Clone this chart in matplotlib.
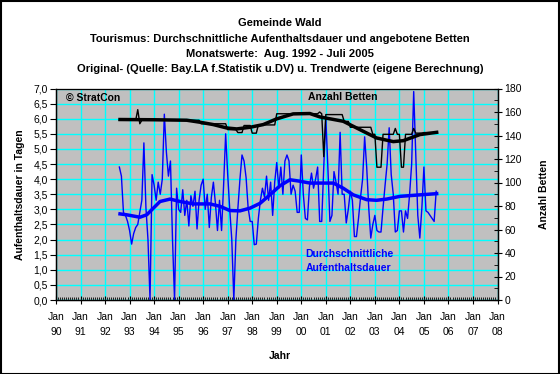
import numpy as np
import matplotlib
matplotlib.use("Agg")
import matplotlib.pyplot as plt
from matplotlib.ticker import MultipleLocator, FuncFormatter
from matplotlib.patches import Rectangle

plt.rcParams['font.family'] = ['Liberation Sans', 'DejaVu Sans']

# monthly values, Aug 1992 - Jul 2005
# Aufenthaltsdauer in Tagen
dauer_1992 = [4.4, 4.1, 2.9, 2.8, 2.6]
dauer_1993 = [2.3, 1.85, 2.2, 2.4, 2.5, 2.9, 3.3, 5.2, 3.05, 2.0, 0.0, 4.15]
dauer_1994 = [3.8, 3.3, 3.9, 3.5, 4.0, 6.15, 4.9, 4.1, 4.6, 2.0, 0.0, 3.7]
dauer_1995 = [3.0, 2.9, 3.65, 2.8, 3.3, 2.45, 3.45, 3.1, 3.6, 2.35, 3.3, 3.8]
dauer_1996 = [4.0, 3.0, 3.5, 2.4, 3.4, 3.9, 3.2, 2.3, 3.3, 2.3, 3.8, 5.5]
dauer_1997 = [4.15, 3.0, 2.0, 0.0, 2.0, 3.05, 4.0, 4.8, 4.6, 4.05, 3.05, 2.6]
dauer_1998 = [2.6, 1.83, 1.85, 2.7, 3.3, 3.7, 3.4, 4.1, 3.3, 3.9, 2.8, 3.9]
dauer_1999 = [4.55, 3.7, 4.4, 3.5, 4.6, 4.8, 4.6, 3.5, 3.8, 3.6, 2.9, 2.9]
dauer_2000 = [4.8, 3.5, 2.7, 2.65, 3.75, 4.2, 3.7, 4.0, 4.4, 2.6, 2.6, 4.4]
dauer_2001 = [6.05, 4.4, 2.6, 2.8, 4.25, 3.9, 3.5, 5.55, 3.5, 3.5, 2.55, 3.0]
dauer_2002 = [3.6, 3.3, 2.1, 2.1, 2.7, 3.4, 4.0, 5.4, 4.4, 3.05, 2.05, 2.5]
dauer_2003 = [2.8, 2.3, 2.25, 2.25, 3.05, 3.8, 4.5, 5.7, 4.15, 3.5, 2.25, 2.3]
dauer_2004 = [2.95, 2.95, 2.25, 2.95, 2.7, 3.5, 4.5, 6.9, 4.8, 2.8, 2.05, 3.05]
dauer_2005 = [4.4, 2.95, 2.9, 2.8, 2.7, 2.6, 3.6]

# Anzahl Betten
betten_1992 = [153, 153, 153, 153, 153]
betten_1993 = [153, 153, 153, 153, 162, 150, 153, 153, 153, 153, 153, 153]
betten_1994 = [153] * 12
betten_1995 = [153] * 11 + [150]
betten_1996 = [150] * 12
betten_1997 = [145, 145, 145, 145, 145, 142.5, 142.5, 142.5, 148.5, 148.5, 148.5, 148.5]
betten_1998 = [142, 142, 142, 149, 149, 149, 149, 149, 149, 149, 149, 149]
betten_1999 = [158.5] * 12
betten_2000 = [158.5] * 9 + [160, 158.5, 122]
betten_2001 = [157.8] * 9 + [152, 152, 152]
betten_2002 = [147] * 11 + [141]
betten_2003 = [141, 113, 113, 113, 141, 141, 141, 141, 141, 141, 146, 141]
betten_2004 = [141, 113, 113, 141, 141, 141, 141, 146, 142, 142, 142, 142]
betten_2005 = [142.5] * 7

# trend values (time in years, value)
trend_dauer_t = [1992.61, 1992.88, 1993.42, 1993.70, 1993.97, 1994.24, 1994.65, 1995.06,
                 1995.60, 1996.28, 1996.69, 1997.09, 1997.50, 1997.91, 1998.32, 1998.72,
                 1999.13, 1999.54, 1999.95, 2000.35, 2000.76, 2001.31, 2001.71, 2002.12,
                 2002.67, 2003.07, 2003.48, 2004.02, 2004.84, 2005.52]
trend_dauer_v = [2.85, 2.82, 2.74, 2.82, 3.04, 3.26, 3.34, 3.26,
                 3.18, 3.18, 3.10, 2.96, 2.95, 3.04, 3.20, 3.48,
                 3.78, 3.98, 3.93, 3.87, 3.87, 3.87, 3.70, 3.48,
                 3.32, 3.30, 3.34, 3.43, 3.48, 3.52]
trend_betten_t = [1992.61, 1994.0, 1995.33, 1995.87, 1996.41, 1996.96, 1997.37, 1997.91,
                  1998.45, 1998.99, 1999.67, 2000.35, 2000.76, 2001.71, 2002.39, 2003.07,
                  2003.75, 2004.16, 2004.84, 2005.52]
trend_betten_v = [153.6, 153.4, 153.0, 151.3, 149.3, 146.4, 145.6, 147.0,
                  149.3, 154.1, 158.4, 158.7, 155.8, 152.1, 145.0, 137.9,
                  134.8, 135.6, 140.8, 142.7]

years = list(range(1990, 2009))
year_labels = ["Jan\n%02d" % (y % 100) for y in years]

dauer = np.concatenate([dauer_1992, dauer_1993, dauer_1994, dauer_1995, dauer_1996,
                        dauer_1997, dauer_1998, dauer_1999, dauer_2000, dauer_2001,
                        dauer_2002, dauer_2003, dauer_2004, dauer_2005])
betten = np.concatenate([betten_1992, betten_1993, betten_1994, betten_1995, betten_1996,
                         betten_1997, betten_1998, betten_1999, betten_2000, betten_2001,
                         betten_2002, betten_2003, betten_2004, betten_2005])
t = 1992 + (7 + np.arange(len(dauer))) / 12.0

W, H = 560, 374
fig = plt.figure(figsize=(W / 100, H / 100), dpi=100)
fig.patch.set_facecolor('white')
ax = fig.add_axes([56 / W, 1 - 300 / H, (497.5 - 56) / W, (300 - 88.5) / H])
ax.set_facecolor('#c0c0c0')

ax.set_xlim(1990, 2008)
ax.set_ylim(0, 7)
ax.set_xticks(years)
ax.set_xticklabels(year_labels, linespacing=1.6)
ax.xaxis.set_minor_locator(MultipleLocator(1 / 12.0))
ax.yaxis.set_major_locator(MultipleLocator(0.5))
ax.yaxis.set_major_formatter(FuncFormatter(lambda v, p: ("%.1f" % v).replace('.', ',')))
ax.grid(True, which='major', color='#00ffff', linewidth=1)
ax.set_axisbelow(True)

ax.plot(t, dauer, color='#0000ff', linewidth=1)
ax.plot(trend_dauer_t, trend_dauer_v, color='#0000ff', linewidth=2.5)

ax.tick_params(axis='x', which='major', direction='inout', length=6, labelsize=7.5, pad=6)
ax.tick_params(axis='x', which='minor', direction='in', length=2)
ax.tick_params(axis='y', which='major', direction='out', length=4, labelsize=7.5, pad=2)
for s in ax.spines.values():
    s.set_color('black')
    s.set_linewidth(1)
ax.spines['top'].set_color('#808080')

ax2 = ax.twinx()
ax2.set_ylim(0, 180)
ax2.yaxis.set_major_locator(MultipleLocator(20))
ax2.yaxis.set_minor_locator(MultipleLocator(10))
ax2.tick_params(axis='y', which='major', direction='inout', length=6, labelsize=7.5, pad=2)
ax2.tick_params(axis='y', which='minor', direction='in', length=3)
ax2.plot(t, betten, color='black', linewidth=1)
ax2.plot(trend_betten_t, trend_betten_v, color='black', linewidth=2.5)

ax.set_ylabel("Aufenthaltsdauer in Tagen", fontsize=7.5, fontweight='bold', labelpad=6)
ax2.set_ylabel("Anzahl Betten", fontsize=7.5, fontweight='bold', rotation=90, labelpad=12)
fig.text(280 / W, 1 - 356 / H, "Jahr", ha='center', va='center', fontsize=7.5, fontweight='bold')

titles = ["Gemeinde Wald",
          "Tourismus: Durchschnittliche Aufenthaltsdauer und angebotene Betten",
          "Monatswerte:  Aug. 1992 - Juli 2005",
          "Original- (Quelle: Bay.LA f.Statistik u.DV) u. Trendwerte (eigene Berechnung)"]
for i, line in enumerate(titles):
    fig.text(280 / W, 1 - (23 + 15.5 * i) / H, line, ha='center', va='center',
             fontsize=8, fontweight='bold')

fig.text(66 / W, 1 - 97.5 / H, "© StratCon", ha='left', va='center', fontsize=7.5, fontweight='bold')
fig.text(308 / W, 1 - 97.5 / H, "Anzahl Betten", ha='left', va='center', fontsize=7.5, fontweight='bold')
fig.text(349 / W, 1 - 261 / H, "Durchschnittliche\nAufenthaltsdauer", ha='center', va='center',
         fontsize=7.5, fontweight='bold', color='#0000ff', linespacing=1.5)

fig.patches.append(Rectangle((0.5 / W, 0.5 / H), (W - 1.5) / W, (H - 1.5) / H,
                             transform=fig.transFigure, fill=False, edgecolor='black',
                             linewidth=1.5))

fig.savefig("out.png", dpi=100)
